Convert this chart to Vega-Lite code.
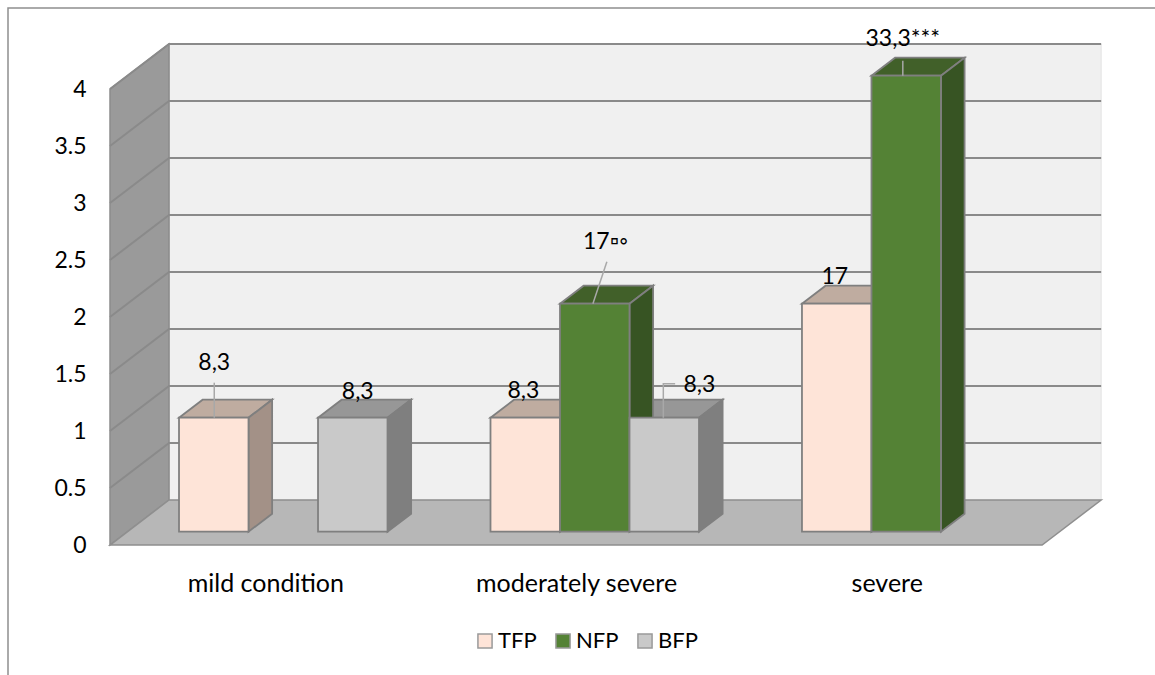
{
  "$schema": "https://vega.github.io/schema/vega-lite/v6.json",
  "autosize": {"type": "none"},
  "padding": {"left": 8, "top": 8, "right": 0, "bottom": 0},
  "width": 1150,
  "height": 672,
  "background": "white",
  "view": {"stroke": "#8f8f8f", "strokeWidth": 1.5, "fill": "white"},
  "config": {"font": "Lato", "text": {"font": "Lato"}},
  "data": {"values": [
    {"category": "mild condition", "series": "TFP", "count": 1, "label": "8,3"},
    {"category": "mild condition", "series": "BFP", "count": 1, "label": "8,3"},
    {"category": "moderately severe", "series": "TFP", "count": 1, "label": "8,3"},
    {"category": "moderately severe", "series": "NFP", "count": 2, "label": "17▫◦"},
    {"category": "moderately severe", "series": "BFP", "count": 1, "label": "8,3"},
    {"category": "severe", "series": "TFP", "count": 2, "label": "17"},
    {"category": "severe", "series": "NFP", "count": 4, "label": "33,3***"}
  ]},
  "transform": [
    {"calculate": "indexof(['mild condition','moderately severe','severe'], datum.category)", "as": "g"},
    {"calculate": "indexof(['TFP','NFP','BFP'], datum.series)", "as": "s"},
    {"calculate": "datum.g + '' + datum.s", "as": "key"},
    {"calculate": "0.2221 + datum.g * 1.0025 + datum.s * 0.2237", "as": "x0"},
    {"calculate": "datum.x0 + 0.2237", "as": "x1"},
    {"calculate": "(datum.x0 + datum.x1) / 2", "as": "xc"},
    {"calculate": "0.117", "as": "base"},
    {"calculate": "datum.base + datum.count", "as": "top"},
    {"calculate": "0.076", "as": "dx"},
    {"calculate": "0.158", "as": "dy"}
  ],
  "encoding": {},
  "layer": [
    {
      "data": {"values": [{"length": 3, "height": 4}]},
      "mark": {"type": "rect", "fill": "#f0f0f0", "stroke": "#e4e4e4", "strokeWidth": 1},
      "transform": [
        {"calculate": "0.19", "as": "xa"},
        {"calculate": "0.19 + datum.length", "as": "xb"},
        {"calculate": "0.395", "as": "ya"},
        {"calculate": "0.395 + datum.height", "as": "yb"}
      ],
      "encoding": {
        "x": {
          "field": "xa", "type": "quantitative", "title": null,
          "scale": {"domain": [-0.3283, 3.373], "nice": false, "zero": false},
          "axis": {
            "orient": "bottom", "offset": -120, "values": [0.5, 1.5, 2.5],
            "labelExpr": "['mild condition','moderately severe','severe'][floor(datum.value)]",
            "grid": false, "domain": false, "ticks": false, "labelLimit": 0,
            "labelFont": "Lato", "labelFontSize": 25, "labelColor": "#000000", "labelPadding": 11
          }
        },
        "x2": {"field": "xb"},
        "y": {
          "field": "ya", "type": "quantitative", "title": null,
          "scale": {"domain": [-1.184, 4.711], "nice": false, "zero": false},
          "axis": {
            "orient": "left", "offset": -102, "values": [0, 0.5, 1, 1.5, 2, 2.5, 3, 3.5, 4],
            "labelExpr": "datum.value",
            "grid": false, "domain": false, "ticks": false,
            "labelFont": "Lato", "labelFontSize": 23, "labelColor": "#000000", "labelPadding": 24
          }
        },
        "y2": {"field": "yb"}
      }
    },
    {
      "data": {"values": [{"length": 3, "height": 4}]},
      "mark": {"type": "area", "fill": "#9a9a9a", "stroke": "#8c8c8c", "strokeWidth": 1.5},
      "transform": [
        {"calculate": "[0, 1]", "as": "t"},
        {"flatten": ["t"]},
        {"calculate": "datum.t * 0.19", "as": "wx"},
        {"calculate": "datum.t * 0.395 + datum.height", "as": "wy"},
        {"calculate": "datum.t * 0.395", "as": "wy2"}
      ],
      "encoding": {
        "x": {"field": "wx", "type": "quantitative"},
        "y": {"field": "wy", "type": "quantitative"},
        "y2": {"field": "wy2"}
      }
    },
    {
      "data": {"values": [{"length": 3, "height": 4}]},
      "mark": {"type": "area", "fill": "#b7b7b7", "stroke": "#8f8f8f", "strokeWidth": 1.5},
      "transform": [
        {"calculate": "[0, 1, 2, 3]", "as": "c"},
        {"flatten": ["c"]},
        {"calculate": "datum.c < 2 ? datum.c * 0.19 : datum.length + (datum.c - 2) * 0.19", "as": "fx"},
        {"calculate": "datum.c == 0 ? 0 : 0.395", "as": "fy"},
        {"calculate": "datum.c < 3 ? 0 : 0.395", "as": "fy2"}
      ],
      "encoding": {
        "x": {"field": "fx", "type": "quantitative"},
        "y": {"field": "fy", "type": "quantitative"},
        "y2": {"field": "fy2"}
      }
    },
    {
      "data": {"values": [
        {"level": 0.5}, {"level": 1}, {"level": 1.5}, {"level": 2},
        {"level": 2.5}, {"level": 3}, {"level": 3.5}, {"level": 4}
      ]},
      "mark": {"type": "line", "stroke": "#8a8a8a", "strokeWidth": 2},
      "transform": [
        {"calculate": "[0, 1, 2]", "as": "c"},
        {"flatten": ["c"]},
        {"calculate": "[0, 0.19, 3.19][datum.c]", "as": "gx"},
        {"calculate": "datum.level + (datum.c > 0 ? 0.395 : 0)", "as": "gy"}
      ],
      "encoding": {
        "x": {"field": "gx", "type": "quantitative"},
        "y": {"field": "gy", "type": "quantitative"},
        "detail": {"field": "level"},
        "order": {"field": "c", "type": "quantitative"}
      }
    },
    {
      "layer": [
        {
          "mark": {"type": "area", "stroke": "#7f7f7f", "strokeWidth": 1.8},
          "transform": [
            {"calculate": "[0, 1, 2, 3]", "as": "c"},
            {"flatten": ["c"]},
            {"calculate": "datum.c < 2 ? datum.x0 + datum.c * datum.dx : datum.x1 + (datum.c - 2) * datum.dx", "as": "tx"},
            {"calculate": "datum.c == 0 ? datum.top : datum.top + datum.dy", "as": "ty"},
            {"calculate": "datum.c < 3 ? datum.top : datum.top + datum.dy", "as": "ty2"}
          ],
          "encoding": {
            "x": {"field": "tx", "type": "quantitative"},
            "y": {"field": "ty", "type": "quantitative"},
            "y2": {"field": "ty2"},
            "detail": {"field": "key"},
            "color": {
              "field": "series", "type": "nominal", "legend": null,
              "scale": {"domain": ["TFP", "NFP", "BFP"], "range": ["#bfaca0", "#416029", "#979797"]}
            }
          }
        },
        {
          "mark": {"type": "area", "stroke": "#7f7f7f", "strokeWidth": 1.8},
          "transform": [
            {"calculate": "[0, 1]", "as": "t"},
            {"flatten": ["t"]},
            {"calculate": "datum.x1 + datum.t * datum.dx", "as": "sx"},
            {"calculate": "datum.top + datum.t * datum.dy", "as": "sy"},
            {"calculate": "datum.base + datum.t * datum.dy", "as": "sy2"}
          ],
          "encoding": {
            "x": {"field": "sx", "type": "quantitative"},
            "y": {"field": "sy", "type": "quantitative"},
            "y2": {"field": "sy2"},
            "detail": {"field": "key"},
            "color": {
              "field": "series", "type": "nominal", "legend": null,
              "scale": {"domain": ["TFP", "NFP", "BFP"], "range": ["#a39187", "#375423", "#7f7f7f"]}
            }
          }
        },
        {
          "mark": {"type": "rect", "stroke": "#7f7f7f", "strokeWidth": 1.8},
          "encoding": {
            "x": {"field": "x0", "type": "quantitative"},
            "x2": {"field": "x1"},
            "y": {"field": "top", "type": "quantitative"},
            "y2": {"field": "base"},
            "color": {
              "field": "series", "type": "nominal",
              "scale": {"domain": ["TFP", "NFP", "BFP"], "range": ["#fee4d8", "#548235", "#c9c9c9"]},
              "legend": {
                "orient": "none", "legendX": 466, "legendY": 622, "direction": "horizontal", "columns": 3,
                "title": null, "symbolType": "square", "symbolSize": 200,
                "symbolStrokeColor": "#9a9a9a", "symbolStrokeWidth": 1.5,
                "labelFont": "Lato", "labelFontSize": 22, "labelColor": "#000000",
                "labelOffset": 2, "columnPadding": 15
              }
            }
          }
        }
      ],
      "resolve": {"scale": {"color": "independent"}}
    },
    {
      "mark": {"type": "line", "stroke": "#a8a8a8", "strokeWidth": 1.5},
      "transform": [
        {"filter": "indexof(['00','11','12','21'], datum.key) >= 0"},
        {"calculate": "({'00': [[0.0016, 0, 0], [0.0016, 0.307, 1]], '11': [[-0.006, 0, 0], [0.039, 0.368, 1]], '12': [[-0.003, 0, 0], [-0.003, 0.298, 1], [0.035, 0.298, 2]], '21': [[-0.011, 0, 0], [-0.011, 0.132, 1]]})[datum.key]", "as": "pt"},
        {"flatten": ["pt"]},
        {"calculate": "datum.xc + datum.pt[0]", "as": "lx"},
        {"calculate": "datum.top + datum.pt[1]", "as": "ly"},
        {"calculate": "datum.pt[2]", "as": "step"}
      ],
      "encoding": {
        "x": {"field": "lx", "type": "quantitative"},
        "y": {"field": "ly", "type": "quantitative"},
        "detail": {"field": "key"},
        "order": {"field": "step", "type": "quantitative"}
      }
    },
    {
      "mark": {"type": "text", "font": "Lato", "fontSize": 23, "color": "#000000", "baseline": "middle", "align": "center"},
      "transform": [
        {"calculate": "({'00': [0.0016, 0.482], '02': [0.016, 0.228], '10': [-0.006, 0.237], '11': [0.035, 0.544], '12': [0.113, 0.289], '20': [-0.006, 0.237], '21': [-0.011, 0.325]})[datum.key]", "as": "shift"},
        {"calculate": "datum.xc + datum.shift[0]", "as": "tx"},
        {"calculate": "datum.top + datum.shift[1]", "as": "ty"}
      ],
      "encoding": {
        "x": {"field": "tx", "type": "quantitative"},
        "y": {"field": "ty", "type": "quantitative"},
        "text": {"field": "label", "type": "nominal"}
      }
    }
  ]
}
